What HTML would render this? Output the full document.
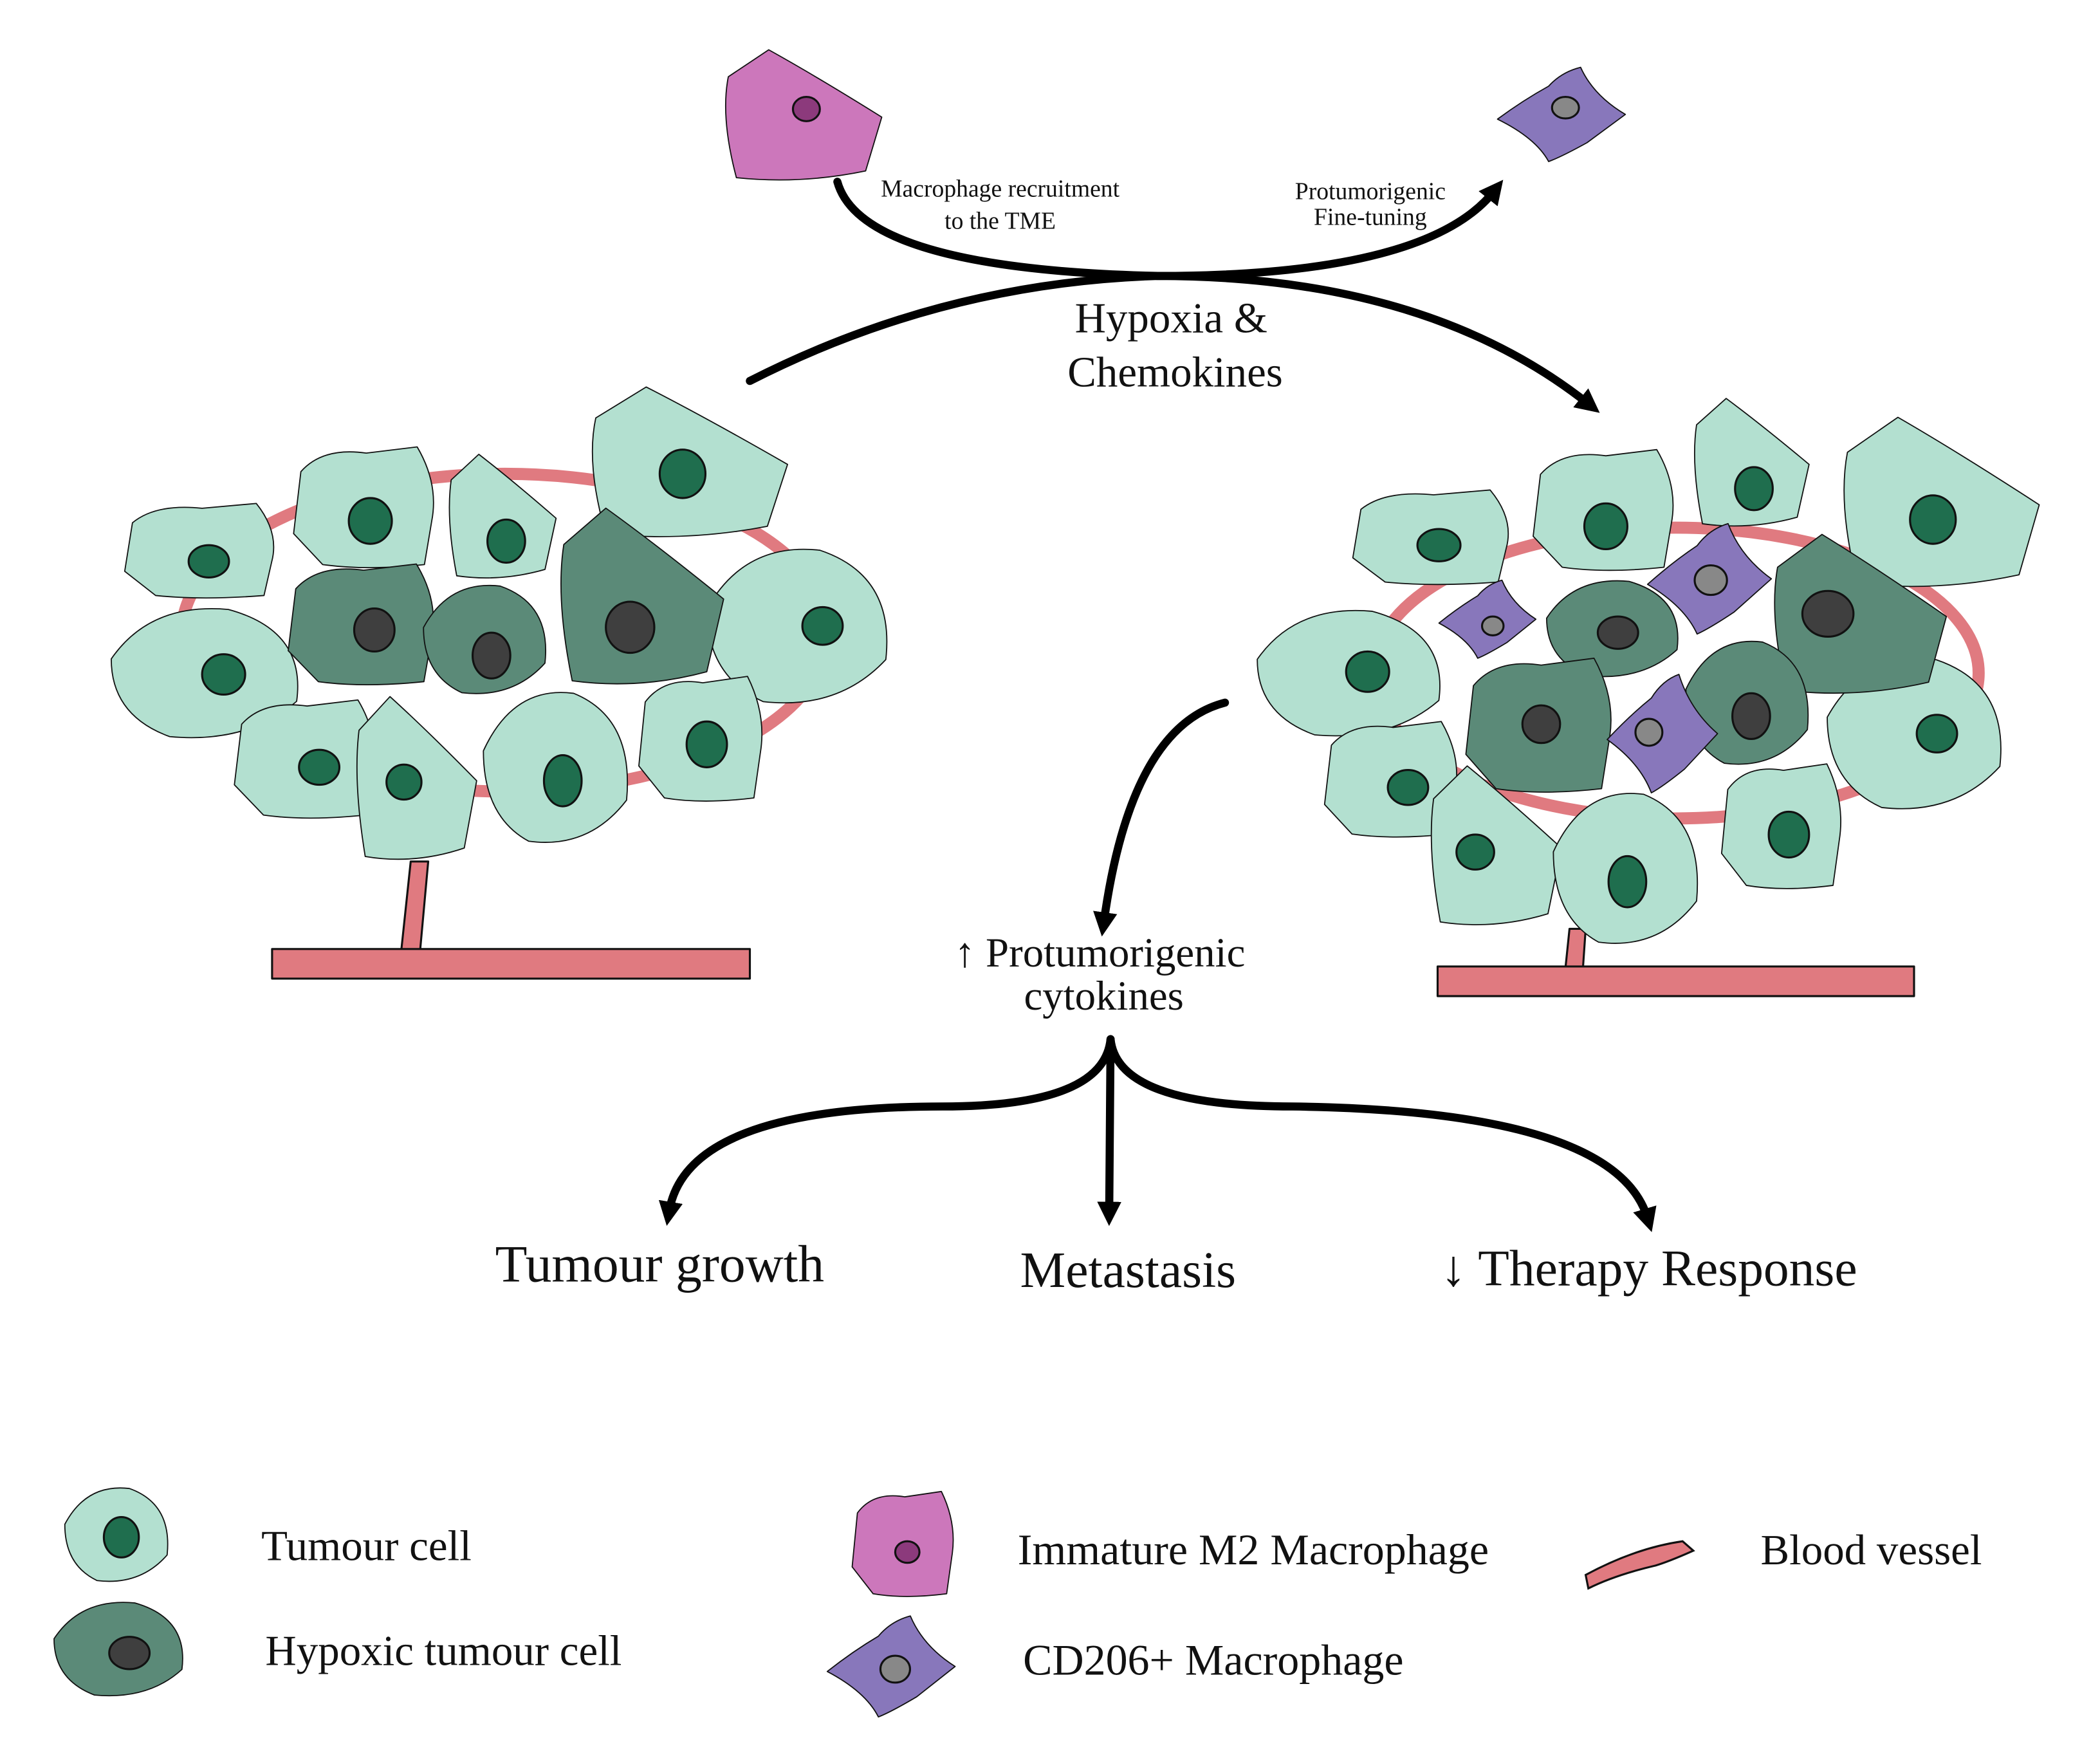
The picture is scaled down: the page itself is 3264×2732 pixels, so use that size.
<!DOCTYPE html>
<html><head><meta charset="utf-8"><style>
html,body{margin:0;padding:0;background:#fff;}
svg{display:block;}
text{font-family:"Liberation Serif",serif;fill:#111;}
.c{vector-effect:non-scaling-stroke;stroke:#111;stroke-width:1.8;stroke-linejoin:round;}
</style></head><body>
<svg width="3264" height="2732" viewBox="0 0 1560 1306" xmlns="http://www.w3.org/2000/svg">
<defs>
<path id="A" class="c" d="M-0.45,-0.3 Q-0.3,-0.5 0,-0.45 L0.35,-0.5 Q0.5,-0.2 0.45,0.1 L0.4,0.45 Q0,0.5 -0.3,0.45 L-0.5,0.2 Z"/>
<path id="B" class="c" d="M-0.2,-0.5 Q0.1,-0.3 0.5,0 L0.4,0.4 Q0,0.5 -0.4,0.45 Q-0.5,0 -0.45,-0.3 Z"/>
<path id="C" class="c" d="M-0.5,-0.1 Q-0.3,-0.5 0.1,-0.45 Q0.5,-0.3 0.45,0.2 Q0.2,0.5 -0.2,0.45 Q-0.5,0.3 -0.5,-0.1 Z"/>
<path id="M" class="c" d="M-0.5,0.05 Q-0.3,-0.15 -0.1,-0.3 Q0,-0.45 0.15,-0.5 Q0.25,-0.2 0.5,0 Q0.3,0.2 0.2,0.3 Q0,0.45 -0.1,0.5 Q-0.2,0.25 -0.5,0.05 Z"/>
<marker id="ar" markerWidth="3" markerHeight="3" refX="1.2" refY="1.5" orient="auto" markerUnits="strokeWidth"><path d="M0,0 L3,1.5 L0,3 Z" fill="#000"/></marker>
</defs>
<g stroke="#111" stroke-width="1.5" stroke-linejoin="round">
<ellipse cx="375" cy="470" rx="240" ry="118" fill="none" stroke="#e07a80" stroke-width="9"/>
<path d="M305,640 L298,706 L312,706 L318,640 Z" fill="#e07a80"/>
<rect x="202" y="705" width="355" height="22" fill="#e07a80"/>
<ellipse cx="1245" cy="500" rx="225" ry="108" fill="none" stroke="#e07a80" stroke-width="9"/>
<path d="M1166,690 L1163,719 L1176,719 L1178,690 Z" fill="#e07a80"/>
<rect x="1068" y="718" width="354" height="22" fill="#e07a80"/>
</g>
<g>
<g fill="#b3e0d0">
<use href="#A" transform="translate(150,410) scale(115,72)"/>
<use href="#A" transform="translate(272,378) scale(108,92)"/>
<use href="#B" transform="translate(372,385) scale(82,95)"/>
<use href="#B" transform="translate(510,345) scale(150,115)"/>
<use href="#C" transform="translate(595,465) scale(140,125)"/>
<use href="#C" transform="translate(155,500) scale(145,105)"/>
<use href="#A" transform="translate(228,565) scale(108,90)"/>
<use href="#B" transform="translate(308,580) scale(92,125)"/>
<use href="#C" transform="translate(415,570) scale(112,122)"/>
<use href="#A" transform="translate(522,550) scale(95,95)"/>
</g>
<g fill="#5b8a78">
<use href="#A" transform="translate(270,465) scale(112,92)"/>
<use href="#C" transform="translate(362,475) scale(95,88)"/>
<use href="#B" transform="translate(475,445) scale(125,135)"/>
</g>
<g fill="#b3e0d0">
<use href="#A" transform="translate(1065,400) scale(120,72)"/>
<use href="#A" transform="translate(1193,380) scale(108,92)"/>
<use href="#B" transform="translate(1300,345) scale(88,98)"/>
<use href="#B" transform="translate(1440,375) scale(150,130)"/>
<use href="#C" transform="translate(1005,500) scale(142,102)"/>
<use href="#C" transform="translate(1425,545) scale(135,122)"/>
<use href="#A" transform="translate(1035,580) scale(102,88)"/>
<use href="#B" transform="translate(1110,630) scale(100,122)"/>
<use href="#C" transform="translate(1210,645) scale(112,122)"/>
<use href="#A" transform="translate(1325,615) scale(92,95)"/>
</g>
<g fill="#5b8a78">
<use href="#C" transform="translate(1200,467) scale(102,78)"/>
<use href="#B" transform="translate(1380,458) scale(132,122)"/>
<use href="#A" transform="translate(1145,540) scale(112,102)"/>
<use href="#C" transform="translate(1300,522) scale(95,100)"/>
</g>
<g fill="#8877bb">
<use href="#M" transform="translate(1105,460) scale(72,58)"/>
<use href="#M" transform="translate(1270,430) scale(92,82)"/>
<use href="#M" transform="translate(1235,545) scale(82,88)"/>
<use href="#M" transform="translate(1160,85) scale(95,70)"/>
<use href="#M" transform="translate(662,1238) scale(95,75)"/>
</g>
<g fill="#cc77bb">
<use href="#B" transform="translate(595,87) scale(120,100)"/>
<use href="#A" transform="translate(672,1148) scale(78,80)"/>
</g>
<use href="#C" transform="translate(88,1140) scale(80,76)" fill="#b3e0d0"/>
<use href="#C" transform="translate(90,1225) scale(100,76)" fill="#5b8a78"/>
<path d="M1178,1170 Q1215,1150 1250,1145 L1258,1152 Q1240,1160 1230,1163 Q1200,1170 1180,1180 Z" fill="#e07a80" stroke="#111" stroke-width="1.5"/>
</g>
<g stroke="#111" stroke-width="1.5" fill="#1f6e4e">
<ellipse cx="155" cy="417" rx="15" ry="12"/><ellipse cx="275" cy="387" rx="16" ry="17"/>
<ellipse cx="376" cy="402" rx="14" ry="16"/><ellipse cx="507" cy="352" rx="17" ry="18"/>
<ellipse cx="611" cy="465" rx="15" ry="14"/><ellipse cx="166" cy="501" rx="16" ry="15"/>
<ellipse cx="237" cy="570" rx="15" ry="13"/><ellipse cx="300" cy="581" rx="13" ry="13"/>
<ellipse cx="418" cy="580" rx="14" ry="19"/><ellipse cx="525" cy="553" rx="15" ry="17"/>
<ellipse cx="1069" cy="405" rx="16" ry="12"/><ellipse cx="1193" cy="391" rx="16" ry="17"/>
<ellipse cx="1303" cy="363" rx="14" ry="16"/><ellipse cx="1436" cy="386" rx="17" ry="18"/>
<ellipse cx="1016" cy="499" rx="16" ry="15"/><ellipse cx="1439" cy="545" rx="15" ry="14"/>
<ellipse cx="1046" cy="585" rx="15" ry="13"/><ellipse cx="1096" cy="633" rx="14" ry="13"/>
<ellipse cx="1209" cy="655" rx="14" ry="19"/><ellipse cx="1329" cy="620" rx="15" ry="17"/>
<ellipse cx="90" cy="1142" rx="13" ry="15"/>
</g>
<g stroke="#111" stroke-width="1.5" fill="#3f3f3f">
<ellipse cx="278" cy="468" rx="15" ry="16"/><ellipse cx="365" cy="487" rx="14" ry="17"/>
<ellipse cx="468" cy="466" rx="18" ry="19"/><ellipse cx="1202" cy="470" rx="15" ry="12"/>
<ellipse cx="1358" cy="456" rx="19" ry="17"/><ellipse cx="1145" cy="538" rx="14" ry="14"/>
<ellipse cx="1301" cy="532" rx="14" ry="17"/><ellipse cx="96" cy="1228" rx="15" ry="12"/>
</g>
<g stroke="#111" stroke-width="1.5" fill="#888">
<ellipse cx="1109" cy="465" rx="8" ry="7"/><ellipse cx="1271" cy="431" rx="12" ry="11"/>
<ellipse cx="1225" cy="544" rx="10" ry="10"/><ellipse cx="1163" cy="80" rx="10" ry="8"/>
<ellipse cx="665" cy="1240" rx="11" ry="10"/>
</g>
<g fill="#8c3a7c" stroke="#111" stroke-width="1.5">
<ellipse cx="599" cy="81" rx="10" ry="9"/><ellipse cx="674" cy="1153" rx="9" ry="8"/>
</g>
<g fill="none" stroke="#000" stroke-width="6" stroke-linecap="round">
<path d="M557,283 Q700,210 860,205 Q1060,205 1180,300" marker-end="url(#ar)"/>
<path d="M622,135 Q640,200 860,205 Q1060,205 1110,142" marker-end="url(#ar)"/>
<path d="M910,522 Q840,540 820,685" marker-end="url(#ar)"/>
<path d="M825,772 Q820,822 700,822 Q510,822 497,900" marker-end="url(#ar)"/>
<path d="M825,772 L824,900" marker-end="url(#ar)"/>
<path d="M825,772 Q830,822 960,822 Q1200,825 1224,905" marker-end="url(#ar)"/>
</g>
<text x="743" y="146" font-size="18" text-anchor="middle">Macrophage recruitment</text>
<text x="743" y="170" font-size="18" text-anchor="middle">to the TME</text>
<text x="1018" y="148" font-size="18" text-anchor="middle">Protumorigenic</text>
<text x="1018" y="167" font-size="18" text-anchor="middle">Fine-tuning</text>
<text x="870" y="247" font-size="32" text-anchor="middle">Hypoxia &amp;</text>
<text x="873" y="287" font-size="32" text-anchor="middle">Chemokines</text>
<text x="817" y="718" font-size="31" text-anchor="middle">↑ Protumorigenic</text>
<text x="820" y="750" font-size="31" text-anchor="middle">cytokines</text>
<text x="490" y="952" font-size="39" text-anchor="middle">Tumour growth</text>
<text x="838" y="956" font-size="38" text-anchor="middle">Metastasis</text>
<text x="1225" y="955" font-size="38" text-anchor="middle">↓ Therapy Response</text>
<text x="194" y="1159" font-size="32">Tumour cell</text>
<text x="197" y="1237" font-size="32">Hypoxic tumour cell</text>
<text x="756" y="1162" font-size="32.5">Immature M2 Macrophage</text>
<text x="760" y="1244" font-size="32.5">CD206+ Macrophage</text>
<text x="1308" y="1162" font-size="32">Blood vessel</text>
</svg>
</body></html>
